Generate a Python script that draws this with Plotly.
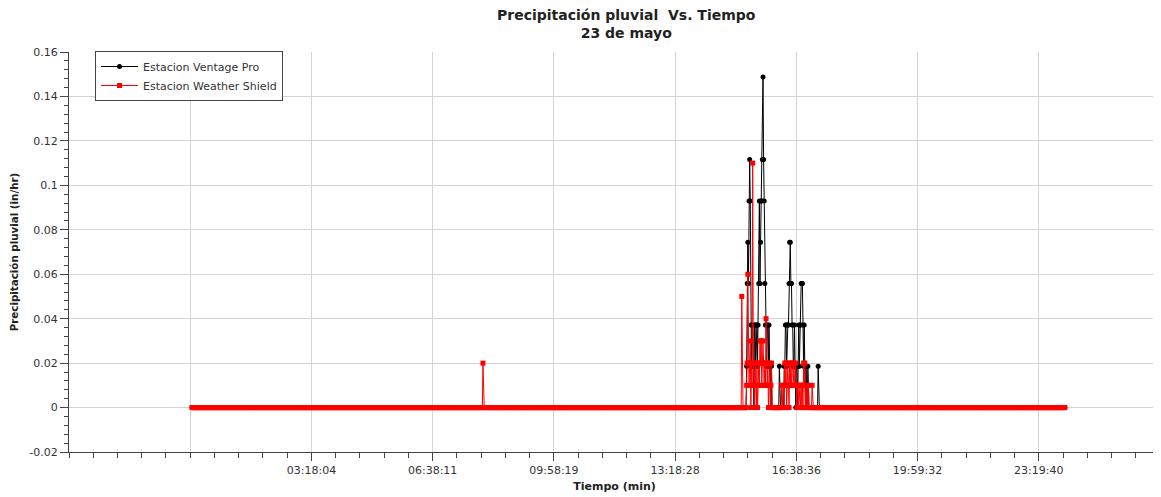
import plotly.graph_objects as go

# ---------------- data ----------------
# x axis = sample number (one sample per minute); tick labels are the sample timestamps
tick_index = [0, 200, 400, 600, 800, 1000, 1200, 1400]
tick_labels = ["", "03:18:04", "06:38:11", "09:58:19", "13:18:28", "16:38:36", "19:59:32", "23:19:40"]
y_tick_values = [-0.02, 0.0, 0.02, 0.04, 0.06, 0.08, 0.10, 0.12, 0.14, 0.16]
y_tick_labels = ["-0.02", "0", "0.02", "0.04", "0.06", "0.08", "0.1", "0.12", "0.14", "0.16"]

first_sample = 3
last_sample = 1443

# Estacion Ventage Pro (in/hr): non-zero readings, sample index -> value (all other samples read 0)
ventage_idx = [918, 919, 920, 921, 922, 923, 924, 925, 926, 927, 928, 929, 931, 932, 933, 934, 935,
               936, 937, 938, 939, 940, 941, 942, 943, 944, 945, 946, 947, 948, 949, 950, 951, 952,
               953, 954, 955, 956, 957, 959, 972, 980, 981, 982, 983, 984, 985, 986, 987, 988, 989,
               990, 991, 992, 993, 994, 995, 996, 997, 998, 1000, 1001, 1003, 1004, 1005, 1006, 1007,
               1008, 1009, 1010, 1011, 1012, 1013, 1014, 1016, 1019, 1036]
ventage_val = [0.0186, 0.0558, 0.0744, 0.0558, 0.093, 0.1116, 0.093, 0.0372, 0.0186, 0.0372, 0.0372,
               0.0186, 0.0372, 0.0372, 0.0186, 0.0372, 0.0372, 0.0186, 0.0372, 0.0558, 0.093, 0.0558,
               0.0744, 0.093, 0.093, 0.1116, 0.1488, 0.1116, 0.093, 0.0558, 0.0372, 0.0372, 0.0186,
               0.0372, 0.0372, 0.0186, 0.0372, 0.0186, 0.0186, 0.0186, 0.0186, 0.0186, 0.0186, 0.0372,
               0.0372, 0.0186, 0.0372, 0.0372, 0.0372, 0.0558, 0.0744, 0.0744, 0.0558, 0.0558, 0.0372,
               0.0372, 0.0186, 0.0186, 0.0372, 0.0186, 0.0186, 0.0186, 0.0186, 0.0372, 0.0186, 0.0372,
               0.0372, 0.0558, 0.0558, 0.0558, 0.0372, 0.0186, 0.0372, 0.0186, 0.0186, 0.0186, 0.0186]

# Estacion Weather Shield (in/hr): non-zero readings
shield_idx = [483, 910, 918, 919, 920, 921, 922, 923, 924, 926, 927, 928, 929, 930, 932, 933, 935,
              937, 938, 939, 940, 941, 942, 943, 944, 945, 946, 947, 948, 949, 950, 951, 952, 953,
              955, 956, 958, 959, 976, 978, 979, 981, 982, 983, 985, 986, 987, 989, 990, 991, 992,
              993, 994, 995, 996, 997, 998, 999, 1000, 1002, 1003, 1005, 1006, 1008, 1010, 1012,
              1013, 1014, 1016, 1018, 1020, 1026]
shield_val = [0.02, 0.05, 0.01, 0.02, 0.06, 0.02, 0.01, 0.02, 0.03, 0.02, 0.01, 0.11, 0.02, 0.01,
              0.02, 0.01, 0.02, 0.01, 0.02, 0.01, 0.03, 0.02, 0.03, 0.01, 0.02, 0.03, 0.02, 0.01,
              0.02, 0.01, 0.04, 0.02, 0.01, 0.02, 0.01, 0.02, 0.01, 0.02, 0.01, 0.01, 0.01, 0.02,
              0.01, 0.02, 0.01, 0.02, 0.01, 0.02, 0.01, 0.02, 0.01, 0.02, 0.02, 0.01, 0.02, 0.01,
              0.01, 0.02, 0.01, 0.01, 0.01, 0.01, 0.01, 0.01, 0.01, 0.02, 0.01, 0.02, 0.01, 0.01,
              0.01, 0.01]

title_lines = ["Precipitación pluvial\u00a0 Vs. Tiempo", "23 de mayo"]


def full_series(idx, val):
    lookup = dict(zip(idx, val))
    xs = list(range(first_sample, last_sample + 1))
    ys = [lookup.get(i, 0.0) for i in xs]
    return xs, ys


vx, vy = full_series(ventage_idx, ventage_val)
sx, sy = full_series(shield_idx, shield_val)

FONT = "DejaVu Sans"
AX = "#444444"
GRID = "#d4d4d4"

# page body has an 8px margin: work in screen pixels and shift
OFF = 8
W, H = 1161 - OFF, 497 - OFF
L_S, R_S, T_S, B_S = 69, 1160, 52, 452   # plot area in screen pixels
PW, PH = R_S - L_S, B_S - T_S


def px_x(sx_):
    return (sx_ - L_S) / PW


def px_y(sy_):
    return (B_S - sy_) / PH


fig = go.Figure()
fig.add_trace(go.Scatter(x=vx, y=vy, mode="lines+markers", name="Estacion Ventage Pro",
                         line=dict(color="black", width=1),
                         marker=dict(symbol="circle", size=5, color="black")))
fig.add_trace(go.Scatter(x=sx, y=sy, mode="lines+markers", name="Estacion Weather Shield",
                         line=dict(color="red", width=1),
                         marker=dict(symbol="square", size=5, color="red")))

fig.add_annotation(text="<br>".join(title_lines), xref="paper", yref="paper",
                   x=px_x(626), y=px_y(24),
                   xanchor="center", yanchor="middle", showarrow=False, align="center",
                   font=dict(family=FONT, size=14, color="#222222", weight="bold"))

fig.update_layout(
    width=W, height=H,
    margin=dict(l=L_S - OFF, r=W - (R_S - OFF), t=T_S - OFF, b=H - (B_S - OFF), autoexpand=False),
    paper_bgcolor="white", plot_bgcolor="white",
    font=dict(family=FONT, size=11, color="#333333"),
    showlegend=True,
    legend=dict(x=px_x(95), y=px_y(51), xanchor="left", yanchor="top",
                bgcolor="white", bordercolor=AX, borderwidth=1, itemwidth=37,
                font=dict(family=FONT, size=11, color="#333333"),
                tracegroupgap=0),
    xaxis=dict(range=[-200, 1600], tickmode="array", tickvals=tick_index, ticktext=tick_labels,
               automargin=False,
               showgrid=True, gridcolor=GRID, gridwidth=1, zeroline=False,
               showline=True, linecolor=AX, linewidth=1,
               ticks="outside", ticklen=8, tickcolor=AX,
               tickfont=dict(family=FONT, size=11, color="#333333"),
               minor=dict(tickvals=list(range(-200, 1601, 40)), ticks="outside", ticklen=5,
                          tickcolor=AX, showgrid=False),
               title=dict(text="Tiempo (min)", standoff=6,
                          font=dict(family=FONT, size=11, color="#222222", weight="bold"))),
    yaxis=dict(range=[-0.02, 0.16], tickmode="array", tickvals=y_tick_values, ticktext=y_tick_labels,
               automargin=False,
               showgrid=True, gridcolor=GRID, gridwidth=1, zeroline=False,
               showline=True, linecolor=AX, linewidth=1,
               ticks="outside", ticklen=8, tickcolor=AX,
               tickfont=dict(family=FONT, size=11, color="#333333"),
               minor=dict(tickmode="linear", dtick=0.004, tick0=0, ticks="outside", ticklen=4,
                          tickcolor=AX, showgrid=False),
               title=dict(text="Precipitación pluvial (in/hr)", standoff=10,
                          font=dict(family=FONT, size=10.3, color="#222222", weight="bold"))),
)

fig.write_html("out.html")
